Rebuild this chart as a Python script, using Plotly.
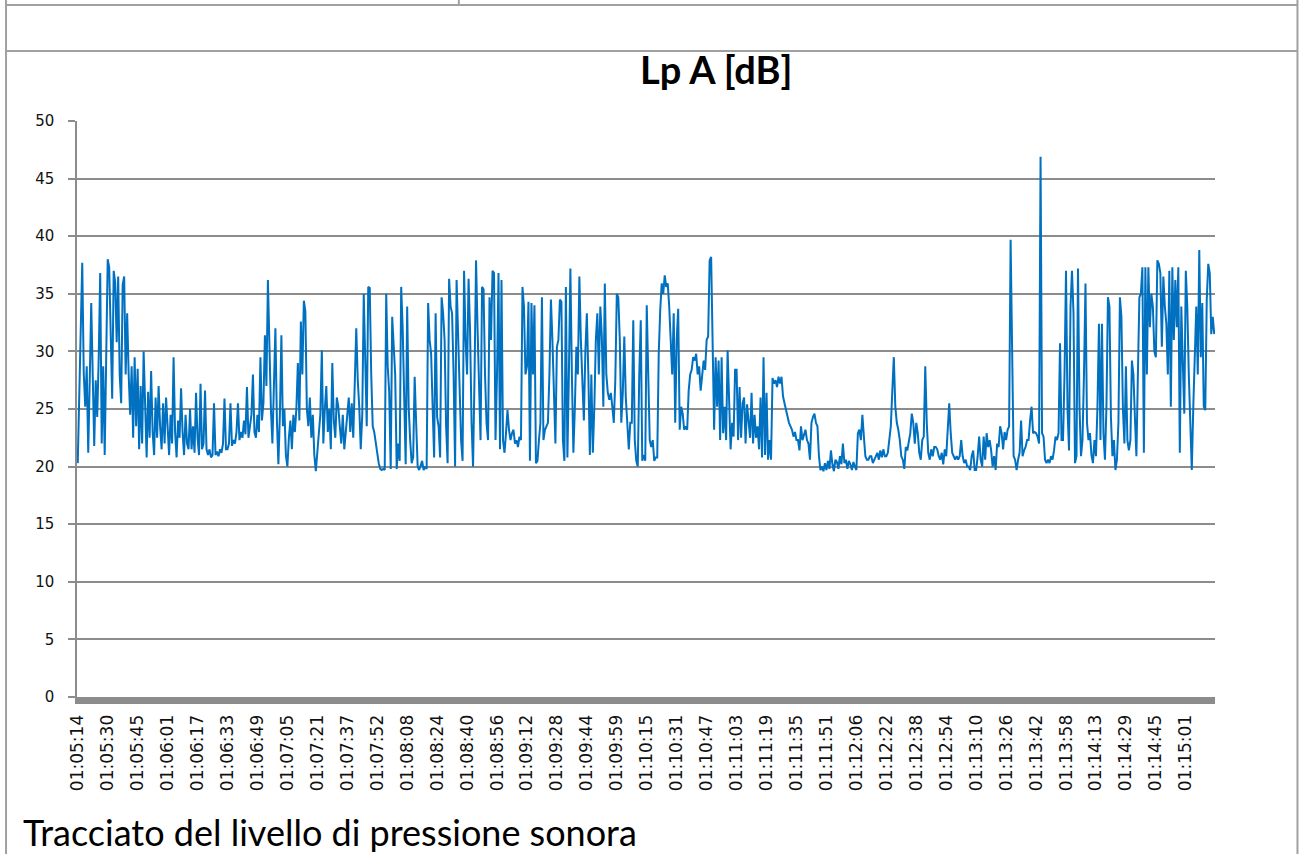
import plotly.graph_objects as go

# ---- data ----
time_labels = ["01:05:14","01:05:30","01:05:45","01:06:01","01:06:17","01:06:33","01:06:49",
               "01:07:05","01:07:21","01:07:37","01:07:52","01:08:08","01:08:24","01:08:40",
               "01:08:56","01:09:12","01:09:28","01:09:44","01:09:59","01:10:15","01:10:31",
               "01:10:47","01:11:03","01:11:19","01:11:35","01:11:51","01:12:06","01:12:22",
               "01:12:38","01:12:54","01:13:10","01:13:26","01:13:42","01:13:58","01:14:13",
               "01:14:29","01:14:45","01:15:01"]
samples_per_label = 20

# Lp A [dB] samples, 20 per labelled interval
lp_a_part1 = [
    20.3, 26.4, 31.3, 37.7, 28.1, 25.2, 28.7, 21.2, 27.5, 34.2, 28.0, 21.8, 27.5, 24.3, 29.5, 36.8, 22.0, 28.7, 21.0, 29.5,
    38.0, 37.3, 30.4, 25.9, 37.0, 36.0, 30.8, 36.5, 28.0, 25.5, 35.8, 36.5, 28.0, 33.3, 28.0, 24.5, 28.7, 22.5, 29.5, 23.5,
    28.5, 21.5, 27.0, 22.0, 30.0, 24.0, 20.8, 26.5, 22.5, 28.3, 23.0, 21.0, 26.0, 22.5, 27.0, 23.5, 21.5, 25.5, 22.0, 26.0,
    23.0, 21.0, 24.5, 22.0, 29.5, 23.0, 20.8, 24.0, 22.5, 26.8, 23.0, 21.0, 24.5, 22.0, 21.5, 25.0, 21.5, 23.5, 21.2, 26.4,
    22.5, 21.0, 27.2, 21.5, 22.0, 26.6, 21.5, 21.0, 21.5, 20.8, 21.0, 25.5, 21.0, 21.3, 20.9, 21.5, 21.2, 22.0, 25.9, 21.5,
    21.5, 22.0, 25.5, 21.8, 22.3, 22.0, 23.0, 25.5, 22.3, 23.0, 22.5, 24.0, 22.8, 26.9, 22.5, 23.5, 24.5, 28.0, 23.0, 22.5,
    24.5, 23.0, 29.5, 24.0, 25.5, 31.4, 27.0, 36.2, 29.0, 25.0, 22.0, 26.0, 32.0, 24.0, 20.2, 24.5, 31.4, 23.5, 25.0, 21.0,
    20.0, 22.5, 24.0, 21.5, 24.5, 23.0, 25.0, 29.0, 24.0, 32.6, 28.0, 34.4, 33.5, 25.0, 23.5, 26.0, 22.5, 24.5, 21.0, 19.6,
    21.5, 23.0, 24.5, 30.1, 22.0, 25.0, 27.0, 23.0, 25.0, 21.5, 29.0, 24.0, 22.5, 26.0, 25.2, 23.5, 22.0, 24.5, 21.5, 23.0,
    24.5, 26.0, 23.0, 25.5, 22.5, 27.0, 32.0, 27.5, 25.2, 21.5, 24.5, 35.0, 28.0, 23.5, 35.6, 35.5, 28.0, 23.5, 23.0, 22.0,
]
lp_a_part2 = [
    21.5, 20.3, 19.8, 19.7, 19.8, 19.7, 35.0, 28.7, 26.5, 19.8, 33.0, 30.0, 28.0, 19.8, 22.0, 20.5, 35.6, 32.0, 25.0, 20.2,
    33.9, 25.2, 22.3, 20.3, 20.8, 27.8, 23.8, 20.0, 19.7, 20.2, 20.5, 19.7, 20.0, 19.8, 34.2, 31.0, 29.8, 25.2, 20.8, 33.3,
    24.3, 23.5, 20.8, 34.7, 33.3, 31.0, 23.5, 20.3, 36.3, 33.9, 33.3, 28.0, 20.0, 36.2, 31.0, 28.0, 22.3, 20.5, 37.0, 31.0,
    28.0, 36.3, 31.8, 23.8, 20.0, 28.0, 37.9, 32.0, 28.0, 22.3, 35.6, 35.4, 28.0, 23.8, 22.3, 34.7, 31.0, 37.0, 36.8, 22.3,
    28.0, 36.8, 21.5, 36.2, 22.3, 21.2, 22.9, 24.9, 23.2, 22.3, 22.9, 23.2, 22.0, 22.3, 21.7, 22.6, 22.3, 35.6, 33.9, 28.0,
    28.7, 34.3, 20.5, 34.2, 28.0, 34.0, 20.3, 20.5, 22.3, 23.8, 34.7, 22.3, 23.2, 23.5, 23.8, 28.0, 34.5, 31.0, 26.0, 22.0,
    30.4, 31.0, 34.5, 34.3, 22.3, 20.5, 35.6, 20.8, 28.0, 37.2, 28.0, 21.2, 25.2, 30.4, 28.0, 36.5, 31.0, 28.0, 24.0, 30.0,
    33.3, 28.0, 21.0, 28.0, 21.2, 25.2, 31.0, 33.3, 28.0, 33.9, 31.3, 25.2, 35.9, 28.0, 26.4, 25.8, 26.4, 25.2, 23.8, 27.5,
    35.0, 34.7, 31.0, 23.8, 26.4, 31.3, 26.0, 23.8, 21.5, 23.8, 23.8, 32.7, 22.3, 20.5, 20.0, 28.0, 32.7, 20.5, 21.0, 20.5,
]
lp_a_part3 = [
    34.0, 28.0, 22.3, 21.7, 22.3, 20.5, 20.8, 20.8, 29.8, 33.6, 35.9, 35.0, 36.6, 35.6, 35.9, 33.9, 30.4, 28.0, 33.3, 23.8,
    31.0, 33.7, 23.2, 25.2, 24.6, 23.2, 23.5, 23.2, 26.6, 28.0, 28.4, 29.5, 29.2, 29.8, 28.0, 28.7, 26.6, 28.0, 29.2, 28.4,
    31.0, 31.3, 37.9, 38.2, 29.8, 23.2, 29.5, 25.2, 29.2, 22.3, 29.5, 22.9, 25.2, 22.3, 30.1, 25.2, 21.5, 23.8, 22.6, 28.4,
    28.4, 22.3, 26.9, 22.5, 25.5, 26.0, 22.0, 25.4, 23.5, 22.5, 26.4, 22.0, 24.5, 22.5, 23.5, 21.5, 26.0, 20.8, 29.5, 21.0,
    26.4, 20.6, 22.3, 20.6, 27.7, 27.2, 27.5, 26.9, 27.8, 27.2, 27.8, 26.1, 25.5, 24.9, 24.3, 23.8, 23.5, 23.2, 22.6, 23.0,
    22.3, 22.3, 21.4, 23.5, 22.3, 22.9, 23.2, 22.3, 22.0, 20.6, 23.8, 24.3, 24.6, 23.8, 23.5, 20.9, 19.7, 20.0, 19.6, 20.3,
    19.7, 20.5, 19.8, 21.4, 20.2, 19.6, 20.6, 20.4, 19.8, 20.9, 20.2, 22.0, 20.3, 20.6, 19.8, 20.5, 20.2, 19.7, 20.4, 20.0,
    19.7, 22.9, 23.2, 22.3, 24.5, 22.6, 20.9, 20.6, 20.6, 20.9, 20.9, 20.3, 20.6, 20.9, 21.2, 20.6, 21.4, 20.8, 21.5, 20.9,
    20.9, 21.2, 22.3, 23.5, 26.6, 29.5, 25.2, 23.8, 23.2, 22.3, 20.9, 20.6, 19.8, 21.7, 21.4, 22.3, 22.9, 24.6, 23.8, 22.0,
    23.8, 22.9, 21.2, 20.6, 22.3, 22.6, 28.7, 23.8, 21.2, 20.6, 21.5, 20.9, 21.7, 21.7, 21.5, 20.9, 20.6, 21.2, 20.2, 21.5,
]
lp_a_part4 = [
    20.9, 23.2, 25.5, 22.9, 21.2, 20.9, 20.6, 20.9, 20.6, 20.9, 22.3, 20.9, 20.3, 20.6, 20.0, 20.0, 19.7, 20.9, 21.4, 19.7,
    19.7, 20.9, 22.6, 20.6, 20.0, 22.6, 20.6, 22.9, 21.7, 22.3, 21.4, 20.0, 20.9, 19.7, 22.0, 21.7, 23.5, 22.9, 21.5, 23.0,
    22.3, 23.2, 23.5, 39.7, 28.0, 20.9, 20.6, 19.7, 20.6, 21.2, 24.0, 20.9, 21.4, 21.7, 22.3, 22.3, 24.0, 25.2, 22.9, 23.0,
    22.9, 22.6, 22.0, 46.9, 22.9, 22.6, 20.6, 20.3, 20.6, 20.3, 20.9, 20.6, 21.4, 22.6, 22.3, 22.9, 30.7, 22.3, 22.3, 28.0,
    37.0, 25.0, 21.4, 33.9, 37.0, 33.3, 20.3, 20.9, 37.2, 25.2, 20.9, 22.3, 28.0, 35.9, 23.8, 22.3, 22.9, 21.0, 20.3, 22.3,
    20.9, 25.2, 32.4, 22.3, 32.4, 22.9, 20.6, 25.2, 34.7, 33.9, 24.3, 20.9, 22.3, 19.7, 20.6, 23.8, 34.7, 33.0, 25.0, 22.0,
    28.7, 22.3, 21.4, 22.3, 29.2, 28.0, 24.3, 20.9, 28.0, 34.7, 35.0, 37.3, 21.2, 37.3, 28.0, 37.3, 32.1, 35.0, 33.9, 30.0,
    29.5, 37.9, 37.6, 36.8, 30.4, 36.5, 33.9, 32.4, 28.0, 37.0, 25.2, 37.3, 31.0, 36.2, 32.1, 37.3, 21.2, 33.9, 29.0, 24.6,
    37.0, 33.9, 28.0, 23.8, 19.7, 25.2, 31.0, 33.9, 28.0, 38.8, 29.5, 34.2, 25.2, 24.9, 34.5, 37.6, 36.8, 31.5, 33.0, 31.5,
]

lp_a = lp_a_part1 + lp_a_part2 + lp_a_part3 + lp_a_part4
x_idx = list(range(len(lp_a)))
tick_pos = [i * samples_per_label for i in range(len(time_labels))]

title_text = "Lp A [dB]"
caption_text = "Tracciato del livello di pressione sonora"

# ---- layout geometry (pixels) ----
W, H = 1300, 854
PL, PR, PT, PB = 77, 1215.5, 121, 697


def px(x):
    return (x - PL) / (PR - PL)


def py(y):
    return (PB - y) / (PB - PT)


fig = go.Figure()
fig.add_trace(go.Scatter(
    x=x_idx, y=lp_a, mode="lines",
    line=dict(color="#0070C0", width=2.0),
    hoverinfo="skip", showlegend=False,
))

grey = "#a0a0a0"
shapes = [
    dict(type="line", xref="paper", yref="paper", x0=px(5), x1=px(1298), y0=py(5), y1=py(5),
         line=dict(color=grey, width=2)),
    dict(type="line", xref="paper", yref="paper", x0=px(5), x1=px(1298), y0=py(51), y1=py(51),
         line=dict(color=grey, width=2)),
    dict(type="line", xref="paper", yref="paper", x0=px(459), x1=px(459), y0=py(0), y1=py(5),
         line=dict(color=grey, width=2)),
    dict(type="line", xref="paper", yref="paper", x0=px(6), x1=px(6), y0=py(0), y1=py(854),
         line=dict(color=grey, width=2)),
    dict(type="line", xref="paper", yref="paper", x0=px(1298), x1=px(1298), y0=py(0), y1=py(854),
         line=dict(color=grey, width=2)),
]

fig.update_layout(
    width=W, height=H, autosize=False,
    margin=dict(l=PL, r=W - PR, t=PT, b=H - PB, pad=0),
    paper_bgcolor="white", plot_bgcolor="white",
    shapes=shapes,
    annotations=[
        dict(text="<b>" + title_text + "</b>", xref="paper", yref="paper",
             x=px(716), y=py(69), xanchor="center", yanchor="middle", showarrow=False,
             font=dict(family="Lato", size=38, color="#000000")),
        dict(text=caption_text, xref="paper", yref="paper",
             x=px(21), y=py(832), xanchor="left", yanchor="middle", showarrow=False,
             font=dict(family="Lato", size=36, color="#000000")),
    ],
    xaxis=dict(
        range=[-0.5, len(lp_a) - 0.5],
        tickmode="array", tickvals=tick_pos, ticktext=time_labels,
        tickangle=-90, showgrid=False, zeroline=False,
        showline=True, linecolor="#8c8c8c", linewidth=7,
        ticks="", ticklabelstandoff=4,
        tickfont=dict(family="DejaVu Sans", size=17, color="#111111"),
    ),
    yaxis=dict(
        range=[0, 50], dtick=5, tick0=0,
        showgrid=True, gridcolor="#8c8c8c", gridwidth=1.5,
        zeroline=False, showline=True, linecolor="#8c8c8c", linewidth=1.5,
        ticks="outside", ticklen=7, tickcolor="#8c8c8c", tickwidth=1.5,
        ticklabelstandoff=11,
        tickfont=dict(family="DejaVu Sans", size=15, color="#111111"),
    ),
)

fig.write_html("out.html")
